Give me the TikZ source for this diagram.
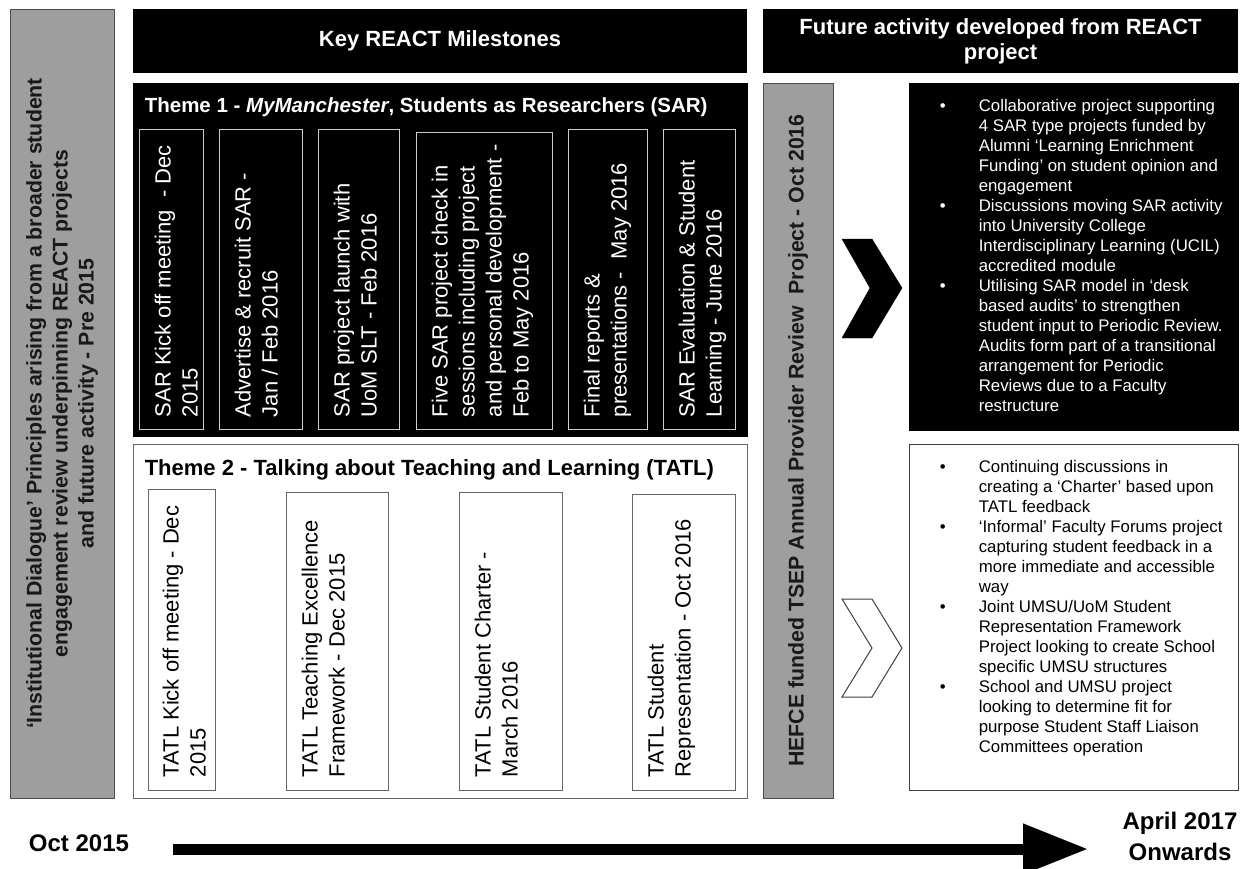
\documentclass[tikz,border=0pt]{standalone}
\usepackage{fontspec}
\setmainfont{Liberation Sans}
\usepackage{tikz}
\usetikzlibrary{positioning}
\usetikzlibrary{calc}
\usetikzlibrary{arrows.meta}

\tikzset{
	bar/.style={draw=black!70, fill=black!38, line width=0.8pt, rotate=90, align=center,
		text=black!90, inner sep=0pt, font=\fontsize{21.3}{26}\selectfont\bfseries},
	header/.style={fill=black, text=white, align=center, inner sep=0pt,
		font=\fontsize{22}{25}\selectfont\bfseries},
	darktheme/.style={draw=black, fill=black, line width=0.8pt, inner sep=0pt},
	lighttheme/.style={draw=black!60, fill=white, line width=0.8pt, inner sep=0pt},
	themetitle/.style={anchor=west, inner sep=0pt, font=\fontsize{22}{26}\selectfont\bfseries},
	sarbox/.style={draw=black!20, fill=black, line width=0.8pt, inner sep=0pt},
	tatlbox/.style={draw=black!60, fill=white, line width=0.8pt, inner sep=0pt},
	mstext/.style={rotate=90, anchor=north west, align=left, inner sep=0pt,
		font=\fontsize{22}{27}\selectfont},
	futbox/.style={line width=0.8pt, inner sep=0pt},
	bullets/.style={anchor=north west, inner sep=0pt, font=\fontsize{16.8}{20}\selectfont},
	datelabel/.style={align=center, inner sep=0pt, font=\fontsize{24}{31}\selectfont\bfseries},
	timeline/.style={line width=11pt, -{Triangle[length=65pt,width=48pt]}},
}

\begin{document}
\begin{tikzpicture}[x=1pt,y=-1pt]

	\useasboundingbox (0,0) rectangle (1256,868);

	% Principles (left bar)
	% ---------------------
	\node[bar, minimum width=789pt, minimum height=104pt] (principles) at (62,403.5)
		{‘Institutional Dialogue’ Principles arising from a broader student\\
		 engagement review underpinning REACT projects\\
		 and future activity - Pre 2015};

	% Key REACT Milestones
	% --------------------
	\node[header, minimum width=614pt, minimum height=64pt] (milestones) at (440,41) {Key REACT Milestones};

	% Theme 1
	\node[darktheme, minimum width=614pt, minimum height=353pt] (theme1) at (440,259.5) {};
	\node[themetitle, text=white, font=\fontsize{20.5}{24}\selectfont\bfseries] (theme1t)
		at ([xshift=12pt,yshift=-25pt]theme1.north west)
		{Theme 1 - \textit{MyManchester}, Students as Researchers (SAR)};

	\node[sarbox, minimum width=64pt, minimum height=300pt] (sar1) at (171,279) {};
	\node[sarbox, minimum width=83pt, minimum height=300pt] (sar2) at (260.5,279) {};
	\node[sarbox, minimum width=81pt, minimum height=300pt] (sar3) at (358.5,279) {};
	\node[sarbox, minimum width=136pt, minimum height=297pt] (sar4) at (484,280.5) {};
	\node[sarbox, minimum width=79pt, minimum height=300pt] (sar5) at (607.5,279) {};
	\node[sarbox, minimum width=72pt, minimum height=300pt] (sar6) at (699,279) {};

	\node[mstext, text=white] (sar1t) at ([xshift=16pt,yshift=12pt]sar1.south west)
		{SAR Kick off meeting\ \ - Dec\\2015};
	\node[mstext, text=white] (sar2t) at ([xshift=16pt,yshift=12pt]sar2.south west)
		{Advertise \& recruit SAR -\\Jan / Feb 2016};
	\node[mstext, text=white] (sar3t) at ([xshift=16pt,yshift=12pt]sar3.south west)
		{SAR project launch with\\UoM SLT - Feb 2016};
	\node[mstext, text=white] (sar4t) at ([xshift=16pt,yshift=12pt]sar4.south west)
		{Five SAR project check in\\sessions including project\\and personal development -\\Feb to May 2016};
	\node[mstext, text=white] (sar5t) at ([xshift=16pt,yshift=12pt]sar5.south west)
		{Final reports \&\\presentations -\ \ May 2016};
	\node[mstext, text=white] (sar6t) at ([xshift=16pt,yshift=12pt]sar6.south west)
		{SAR Evaluation \& Student\\Learning - June 2016};

	% Theme 2
	\node[lighttheme, minimum width=614pt, minimum height=354pt] (theme2) at (440,621) {};
	\node[themetitle] (theme2t) at ([xshift=12pt,yshift=-26pt]theme2.north west)
		{Theme 2 - Talking about Teaching and Learning (TATL)};

	\node[tatlbox, minimum width=67pt, minimum height=301pt] (tatl1) at (181.5,639.5) {};
	\node[tatlbox, minimum width=102pt, minimum height=298pt] (tatl2) at (337,641) {};
	\node[tatlbox, minimum width=103pt, minimum height=298pt] (tatl3) at (510.5,641) {};
	\node[tatlbox, minimum width=103pt, minimum height=296pt] (tatl4) at (683.5,642) {};

	\node[mstext] (tatl1t) at ([xshift=15pt,yshift=13pt]tatl1.south west)
		{TATL Kick off meeting - Dec\\2015};
	\node[mstext] (tatl2t) at ([xshift=16pt,yshift=13pt]tatl2.south west)
		{TATL Teaching Excellence\\Framework - Dec 2015};
	\node[mstext] (tatl3t) at ([xshift=16pt,yshift=13pt]tatl3.south west)
		{TATL Student Charter -\\March 2016};
	\node[mstext] (tatl4t) at ([xshift=16pt,yshift=13pt]tatl4.south west)
		{TATL Student\\Representation - Oct 2016};

	% Future activity
	% ---------------
	\node[header, minimum width=475pt, minimum height=64pt] (future) at (1000.5,41)
		{Future activity developed from REACT\\project};

	\node[bar, minimum width=715pt, minimum height=70pt] (hefce) at (798,440.5)
		{HEFCE funded TSEP Annual Provider Review\ \ Project - Oct 2016};

	% chevrons
	\filldraw[black] (842,239) -- (872,239) -- (902,288) -- (872,338) -- (842,338) -- (870,288) -- cycle;
	\draw[black!75, line width=1pt, fill=white] (842,599) -- (872,599) -- (902,648) -- (872,697) -- (842,697) -- (872,648) -- cycle;

	\node[futbox, draw=black, fill=black, minimum width=329pt, minimum height=347pt] (fut1) at (1073.5,256.5) {};
	\node[futbox, draw=black!75, fill=white, minimum width=329pt, minimum height=346pt] (fut2) at (1073.5,617) {};

	\node[bullets, text=white] (fut1t) at ([xshift=31pt,yshift=-15pt]fut1.north west)
		{\begin{tabular}{@{}p{39pt}@{}l@{}}
		\textbullet & Collaborative project supporting\\
		 & 4 SAR type projects funded by\\
		 & Alumni ‘Learning Enrichment\\
		 & Funding’ on student opinion and\\
		 & engagement\\
		\textbullet & Discussions moving SAR activity\\
		 & into University College\\
		 & Interdisciplinary Learning (UCIL)\\
		 & accredited module\\
		\textbullet & Utilising SAR model in ‘desk\\
		 & based audits’ to strengthen\\
		 & student input to Periodic Review.\\
		 & Audits form part of a transitional\\
		 & arrangement for Periodic\\
		 & Reviews due to a Faculty\\
		 & restructure
		\end{tabular}};

	\node[bullets] (fut2t) at ([xshift=31pt,yshift=-15pt]fut2.north west)
		{\begin{tabular}{@{}p{39pt}@{}l@{}}
		\textbullet & Continuing discussions in\\
		 & creating a ‘Charter’ based upon\\
		 & TATL feedback\\
		\textbullet & ‘Informal’ Faculty Forums project\\
		 & capturing student feedback in a\\
		 & more immediate and accessible\\
		 & way\\
		\textbullet & Joint UMSU/UoM Student\\
		 & Representation Framework\\
		 & Project looking to create School\\
		 & specific UMSU structures\\
		\textbullet & School and UMSU project\\
		 & looking to determine fit for\\
		 & purpose Student Staff Liaison\\
		 & Committees operation
		\end{tabular}};

	% timeline
	\node[datelabel] (start) at (79,843) {Oct 2015};
	\node[datelabel] (finish) at (1180,836) {April 2017\\Onwards};
	\coordinate (tl0) at (173,849);
	\coordinate (tl1) at (1088,849);
	\draw[timeline] (tl0) -- (tl1);

\end{tikzpicture}
\end{document}
